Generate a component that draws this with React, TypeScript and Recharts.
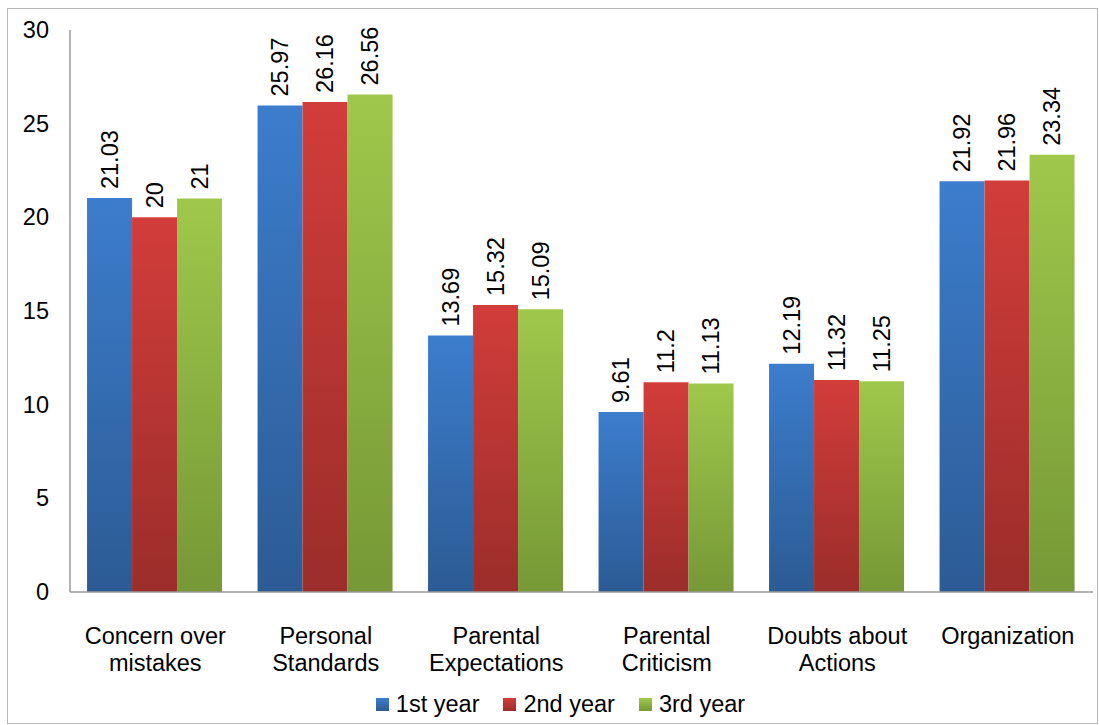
import React from 'react';
import { BarChart, Bar, XAxis, YAxis, Legend, LabelList } from 'recharts';

// Subscale names, split into the lines shown under each group
const categories = [
  'Concern over\nmistakes',
  'Personal\nStandards',
  'Parental\nExpectations',
  'Parental\nCriticism',
  'Doubts about\nActions',
  'Organization',
];

const firstYear = [21.03, 25.97, 13.69, 9.61, 12.19, 21.92];
const secondYear = [20, 26.16, 15.32, 11.2, 11.32, 21.96];
const thirdYear = [21, 26.56, 15.09, 11.13, 11.25, 23.34];

const yTicks = [0, 5, 10, 15, 20, 25, 30];

const FONT = '"Liberation Sans", Arial, sans-serif';
const TEXT_SIZE = 23.5;

const data = categories.map((name, i) => ({
  name,
  first: firstYear[i],
  second: secondYear[i],
  third: thirdYear[i],
}));

const series = [
  { key: 'first', label: '1st year', top: '#3c7dcd', bottom: '#2c5b94' },
  { key: 'second', label: '2nd year', top: '#d23d3a', bottom: '#9b2d2a' },
  { key: 'third', label: '3rd year', top: '#9fc84b', bottom: '#769836' },
];

function CategoryTick(props: any) {
  const { x, y, payload } = props;
  const lines = String(payload.value).split('\n');
  return (
    <g transform={`translate(${x},${y})`}>
      {lines.map((line, i) => (
        <text
          key={i}
          x={0}
          y={44 + i * 27}
          textAnchor="middle"
          fontFamily={FONT}
          fontSize={TEXT_SIZE}
          fill="#000"
        >
          {line}
        </text>
      ))}
    </g>
  );
}

function ValueTick(props: any) {
  const { y, payload } = props;
  return (
    <text
      x={49}
      y={y}
      textAnchor="end"
      dominantBaseline="central"
      fontFamily={FONT}
      fontSize={TEXT_SIZE}
      fill="#000"
    >
      {payload.value}
    </text>
  );
}

function ValueLabel(props: any) {
  const { x, y, width, value } = props;
  const cx = x + width / 2;
  const ty = y - 9;
  return (
    <text
      x={cx}
      y={ty}
      transform={`rotate(-90, ${cx}, ${ty})`}
      textAnchor="start"
      dominantBaseline="central"
      fontFamily={FONT}
      fontSize={TEXT_SIZE}
      fill="#000"
    >
      {value}
    </text>
  );
}

function LegendContent() {
  return (
    <div
      style={{
        display: 'flex',
        justifyContent: 'center',
        fontFamily: FONT,
        fontSize: TEXT_SIZE,
        lineHeight: '26px',
        color: '#000',
        paddingLeft: 52,
      }}
    >
      {series.map((s) => (
        <div key={s.key} style={{ display: 'flex', alignItems: 'center', marginRight: 24 }}>
          <span
            style={{
              display: 'inline-block',
              width: 13,
              height: 13,
              marginRight: 7,
              background: `linear-gradient(${s.top}, ${s.bottom})`,
            }}
          />
          <span>{s.label}</span>
        </div>
      ))}
    </div>
  );
}

export default function App() {
  return (
    <div style={{ position: 'fixed', left: 0, top: 0, width: 1099, height: 725, background: '#fff' }}>
      <div
        style={{
          position: 'absolute',
          left: 7,
          top: 8,
          width: 1089,
          height: 714,
          border: '1px solid #b8b8b8',
        }}
      />
      <div style={{ position: 'absolute', left: 0, top: 0 }}>
        <BarChart
          width={1099}
          height={725}
          data={data}
          margin={{ top: 30, right: 6, bottom: 0, left: 0 }}
          barCategoryGap="10%"
          barGap={0}
        >
          <defs>
            {series.map((s) => (
              <linearGradient key={s.key} id={`grad-${s.key}`} x1="0" y1="0" x2="0" y2="1">
                <stop offset="0%" stopColor={s.top} />
                <stop offset="100%" stopColor={s.bottom} />
              </linearGradient>
            ))}
          </defs>
          <XAxis
            dataKey="name"
            height={99}
            interval={0}
            tickLine={false}
            axisLine={{ stroke: '#9a9a9a', strokeWidth: 1.5 }}
            tick={<CategoryTick />}
          />
          <YAxis
            width={70}
            domain={[0, 30]}
            ticks={yTicks}
            tickLine={false}
            axisLine={{ stroke: '#9a9a9a', strokeWidth: 1.5 }}
            tick={<ValueTick />}
          />
          <Legend verticalAlign="bottom" height={34} content={<LegendContent />} />
          {series.map((s) => (
            <Bar
              key={s.key}
              dataKey={s.key}
              name={s.label}
              fill={`url(#grad-${s.key})`}
              isAnimationActive={false}
            >
              <LabelList dataKey={s.key} content={<ValueLabel />} />
            </Bar>
          ))}
        </BarChart>
      </div>
    </div>
  );
}
